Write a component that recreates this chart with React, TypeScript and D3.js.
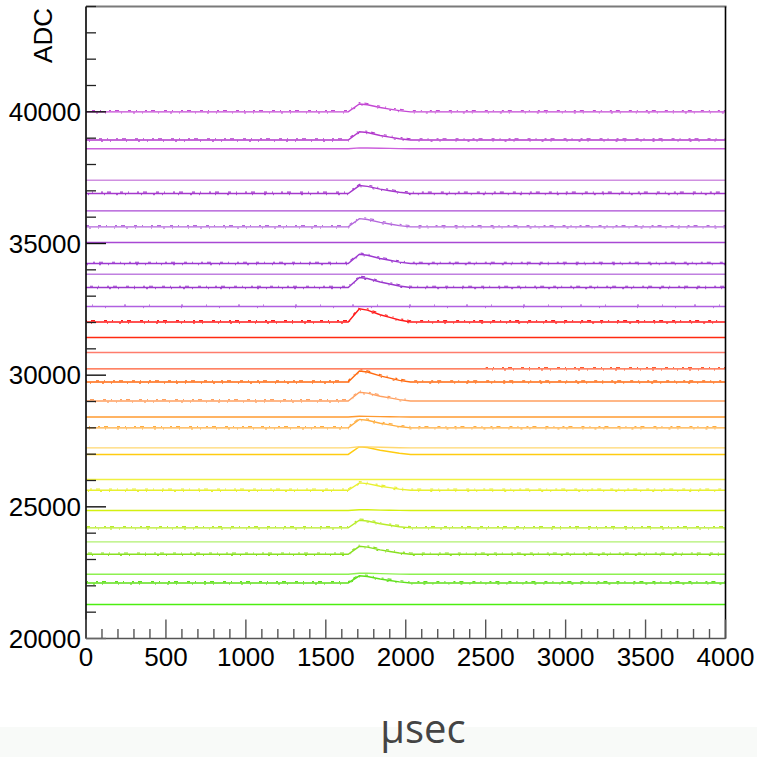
import React from 'react';
import * as d3 from 'd3';

// ---------- data ----------
const xTickMajor = [0, 500, 1000, 1500, 2000, 2500, 3000, 3500, 4000];
const yTickMajor = [20000, 25000, 30000, 35000, 40000];
const xLabel = 'µsec';
const yLabel = 'ADC';

// traces, bottom to top: baseline ADC value
const traceBase = [21290, 22110, 22440, 23200, 23670, 24200, 24860, 25630, 26040, 26990, 27240, 28000, 28410, 29020, 29740, 30240, 30860, 31430, 32020, 32610, 33330, 33830, 34240, 35040, 35630, 36240, 36900, 37400, 38600, 38930, 40000];
// pulse amplitude above baseline (ADC)
const traceAmp = [0, 270, 40, 300, 0, 290, 30, 280, 0, 290, 40, 320, 30, 330, 420, 0, 0, 0, 500, 0, 380, 0, 350, 0, 315, 0, 300, 0, 30, 315, 300];
// where the trace is noisy
const traceNoise = ['none', 'full', 'none', 'full', 'none', 'full', 'none', 'full', 'none', 'none', 'none', 'full', 'none', 'left', 'full', 'right', 'none', 'none', 'full', 'sparse', 'full', 'none', 'full', 'none', 'full', 'none', 'full', 'none', 'none', 'full', 'full'];
// common pulse profile (time µs, fraction of amplitude)
const pulseTime = [0, 1640, 1710, 1760, 1840, 1900, 1960, 2030, 4000];
const pulseShape = [0, 0, 1, 0.9, 0.55, 0.35, 0.15, 0, 0];

// ---------- style ----------
const traceColor = ['#4cee10', '#5fe01a', '#8ef050', '#88e020', '#b0f070', '#b8ec28', '#d4f010', '#e8f030', '#f0f040', '#ffcc10', '#ffd870', '#ffae40', '#ff9a30', '#ffa060', '#ff6a10', '#ff5a30', '#ff7c6c', '#ff2a10', '#ff1a1a', '#b060e0', '#9a38cc', '#c080e0', '#9c38d0', '#a848d4', '#b468dc', '#aa48d4', '#a438cc', '#d090e0', '#cc60dc', '#b238cc', '#c448d4'];

const W = 757;
const H = 757;
const left = 86;
const right = 725.5;
const top = 6.5;
const bottom = 638.5;
const FONT = "'Liberation Sans', Arial, sans-serif";

export default function App() {
  const x = d3.scaleLinear().domain([0, 4000]).range([left, right]);
  const y = d3.scaleLinear().domain([20000, 44000]).range([bottom, top]);

  const xMinor = d3.range(0, 4001, 100).filter((v) => v % 500 !== 0);
  const yMinor = d3.range(20000, 44001, 1000).filter((v) => v % 5000 !== 0);

  const line = d3
    .line<[number, number]>()
    .x((d) => x(d[0]))
    .y((d) => y(d[1]));

  const traces = traceBase.map((base, i) => {
    const pts: [number, number][] = pulseTime.map((t, k) => [t, base + traceAmp[i] * pulseShape[k]]);
    return { d: line(pts) as string, color: traceColor[i], noise: traceNoise[i] };
  });

  const clipFor = (n: string) =>
    n === 'left' ? 'url(#clipLeft)' : n === 'right' ? 'url(#clipRight)' : 'url(#clipAll)';

  return (
    <svg
      width={W}
      height={H}
      style={{ position: 'absolute', left: 0, top: 0, display: 'block', background: '#fff' }}
    >
      <defs>
        <clipPath id="clipAll">
          <rect x={left} y={0} width={right - left} height={H} />
        </clipPath>
        <clipPath id="clipLeft">
          <rect x={left} y={0} width={x(2000) - left} height={H} />
        </clipPath>
        <clipPath id="clipRight">
          <rect x={x(2500)} y={0} width={right - x(2500)} height={H} />
        </clipPath>
      </defs>
      <rect x={0} y={727} width={W} height={H - 727} fill="#f8faf8" />

      {/* traces */}
      {traces.map((t, i) => (
        <g key={i}>
          <path d={t.d} fill="none" stroke={t.color} strokeWidth={1.4} />
          {t.noise !== 'none' && (
            <g clipPath={clipFor(t.noise)}>
              <path
                d={t.d}
                fill="none"
                stroke={t.color}
                strokeWidth={1.1}
                transform="translate(0,-1.3)"
                strokeDasharray={t.noise === 'sparse' ? '2 23 1 31' : '3 5 1 8 2 4 4 9'}
                strokeDashoffset={i * 7}
              />
              <path
                d={t.d}
                fill="none"
                stroke={t.color}
                strokeWidth={1}
                transform="translate(0,1.2)"
                strokeDasharray={t.noise === 'sparse' ? '1 37' : '1 11 2 7 1 15'}
                strokeDashoffset={i * 5}
              />
            </g>
          )}
        </g>
      ))}

      {/* frame */}
      <line x1={left} x2={right + 1} y1={top} y2={top} stroke="#7a7a7a" strokeWidth={2} />
      <line x1={right} x2={right} y1={top} y2={bottom} stroke="#000" strokeWidth={1.6} />
      <line x1={left} x2={right} y1={bottom} y2={bottom} stroke="#555" strokeWidth={1.6} />
      <line x1={left} x2={left} y1={top} y2={bottom} stroke="#000" strokeWidth={1.6} />

      {/* x ticks */}
      {xTickMajor.map((v) => (
        <line key={'xM' + v} x1={x(v)} x2={x(v)} y1={bottom} y2={bottom - 19} stroke="#555" strokeWidth={1.4} />
      ))}
      {xMinor.map((v) => (
        <line key={'xm' + v} x1={x(v)} x2={x(v)} y1={bottom} y2={bottom - 9.5} stroke="#555" strokeWidth={1.4} />
      ))}
      {xTickMajor.map((v) => (
        <text key={'xl' + v} x={x(v)} y={666} textAnchor="middle" fontFamily={FONT} fontSize={26} fill="#000">
          {v}
        </text>
      ))}

      {/* y ticks */}
      {yTickMajor.map((v) => (
        <line key={'yM' + v} x1={left} x2={left + 20} y1={y(v)} y2={y(v)} stroke={v === 20000 ? '#666' : '#111'} strokeWidth={1.4} />
      ))}
      {yMinor.map((v) => (
        <line key={'ym' + v} x1={left} x2={left + 10} y1={y(v)} y2={y(v)} stroke="#222" strokeWidth={1.3} />
      ))}
      {yTickMajor.map((v) => (
        <text key={'yl' + v} x={81} y={y(v) + 9} textAnchor="end" fontFamily={FONT} fontSize={26} fill="#000">
          {v}
        </text>
      ))}

      {/* axis titles */}
      <text transform="translate(52,8) rotate(-90)" textAnchor="end" fontFamily={FONT} fontSize={26} fill="#000">
        {yLabel}
      </text>
      <text x={423} y={743} textAnchor="middle" fontFamily="'Open Sans', sans-serif" fontSize={40} fill="#444">
        {xLabel}
      </text>
    </svg>
  );
}
